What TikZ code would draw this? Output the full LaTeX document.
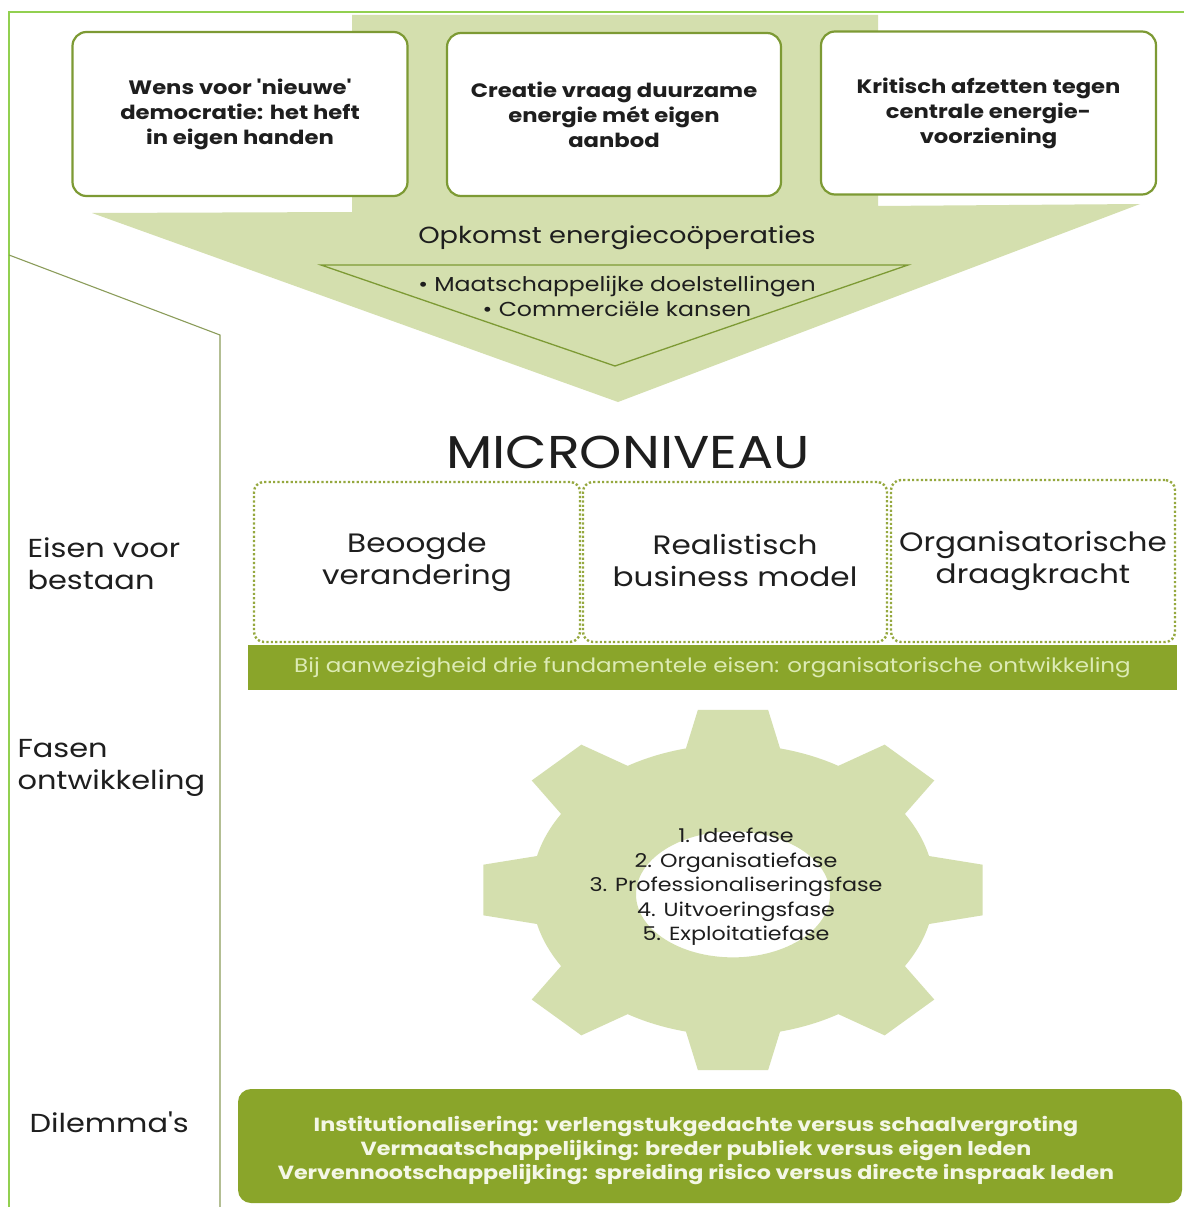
\documentclass[tikz,border=0pt]{standalone}
\usepackage{fontspec}
\setmainfont{Poppins}[FakeStretch=1.17, Ligatures=TeXOff]
\definecolor{shapefill}{HTML}{D4DFAE}
\definecolor{boxline}{HTML}{7D9A34}
\definecolor{barfill}{HTML}{8AA52A}
\definecolor{bartext}{HTML}{DDEBB5}
\definecolor{dilemmatext}{HTML}{F4F7E6}
\definecolor{framegreen}{HTML}{92D050}
\definecolor{sepline}{HTML}{8B9C5A}
\definecolor{dotline}{HTML}{95A83E}
\definecolor{ink}{HTML}{1E1E1E}
\begin{document}
\begin{tikzpicture}[x=1pt,y=-1pt,
  topbox/.style={draw=boxline, line width=2.2pt, fill=white, rounded corners=14pt,
    align=center, inner sep=0pt, text=ink,
    font=\fontsize{19.4}{25}\selectfont\bfseries},
  dotbox/.style={draw=dotline, line width=2.4pt, dash pattern=on 2.2pt off 2.2pt,
    rounded corners=10pt, align=center, inner sep=0pt, text=ink,
    font=\fontsize{26.6}{32}\selectfont},
  sidelabel/.style={anchor=west, align=left, text=ink, font=\fontsize{26}{32}\selectfont},
  plain/.style={align=center, text=ink, inner sep=0pt}]
\useasboundingbox (0,0) rectangle (1184,1207);
\fill[white] (0,0) rectangle (1184,1207);

% outer frame and column separator
\draw[framegreen, line width=1.6pt] (9,1207) -- (9,12) -- (1184,12);
\draw[sepline, line width=1.1pt] (9,255) -- (220,335) -- (220,1207);

% big downward arrow
\fill[shapefill] (352,15) -- (878,15) -- (878,206) -- (1140,204) -- (618,402)
  -- (92,213) -- (352,212) -- cycle;
% inner triangle
\draw[boxline, line width=1.3pt, fill=shapefill] (321,265) -- (908,265) -- (615,366) -- cycle;

% three drivers
\node[topbox, minimum width=335pt, minimum height=164pt] (wens) at (240,114)
  {Wens voor 'nieuwe'\\democratie: het heft\\in eigen handen};
\node[topbox, minimum width=334pt, minimum height=163pt] (creatie) at (614,114.5)
  {Creatie vraag duurzame\\energie mét eigen\\aanbod};
\node[topbox, minimum width=335pt, minimum height=163pt] (kritisch) at (988.5,113)
  {Kritisch afzetten tegen\\centrale energie-\\voorziening};

\node[plain, font=\fontsize{23.3}{28}\selectfont] (opkomst) at (617,238) {Opkomst energiecoöperaties};
\node[plain, font=\fontsize{20.2}{25}\selectfont] (doelen) at (617,296)
  {• Maatschappelijke doelstellingen\\• Commerciële kansen};

% micro level
\node[plain, font=\fontsize{46}{50}\selectfont] (micro) at (628,452) {MICRONIVEAU};

\node[dotbox, minimum width=326pt, minimum height=160pt] (beoogd) at (417,562)
  {Beoogde\\verandering};
\node[dotbox, minimum width=304pt, minimum height=160pt] (business) at (735,562)
  {\raisebox{2.5pt}{Realistisch}\\\raisebox{2.5pt}{business model}};
\node[dotbox, minimum width=284pt, minimum height=162pt] (draag) at (1033,561)
  {Organisatorische\\draagkracht};

\node[fill=barfill, minimum width=929pt, minimum height=45pt, inner sep=0pt,
  text=bartext, font=\fontsize{19.7}{23}\selectfont] (eisbar) at (712.5,667.5)
  {Bij aanwezigheid drie fundamentele eisen: organisatorische ontwikkeling};

% side labels
\node[sidelabel] (eisen) at (24,564) {Eisen voor\\bestaan};
\node[sidelabel] (fasen) at (14,768) {Fasen\\ontwikkeling};
\node[sidelabel] (dilem) at (26,1122) {Dilemma's};

% gear with eight teeth
\begin{scope}[shift={(733,890)}, x=252pt, y=182pt]
  \fill[shapefill, even odd rule] (90-13.5:0.8)
    \foreach \k in {0,...,7} {
      -- ({90+45*\k-8}:1) -- ({90+45*\k+8}:1) -- ({90+45*\k+13.5}:0.8)
      arc[start angle={90+45*\k+13.5}, end angle={90+45*\k+31.5},
          x radius=201.6pt, y radius=145.6pt]
    } -- cycle
    (0,-0.024) ellipse [x radius=97pt, y radius=63pt];
\end{scope}
\node[plain, font=\fontsize{19}{24.5}\selectfont] (stappen) at (736,887)
  {1. Ideefase\\2. Organisatiefase\\3. Professionaliseringsfase\\4. Uitvoeringsfase\\5. Exploitatiefase};

% dilemmas
\node[fill=barfill, rounded corners=13pt, minimum width=944pt, minimum height=114pt,
  inner sep=0pt] (dilembox) at (710,1146) {};
\node[plain, text=dilemmatext, font=\fontsize{19}{24}\selectfont\bfseries] (dilemtxt) at (696,1150)
  {Institutionalisering: verlengstukgedachte versus schaalvergroting\\
   Vermaatschappelijking: breder publiek versus eigen leden\\
   Vervennootschappelijking: spreiding risico versus directe inspraak leden};
\end{tikzpicture}
\end{document}
